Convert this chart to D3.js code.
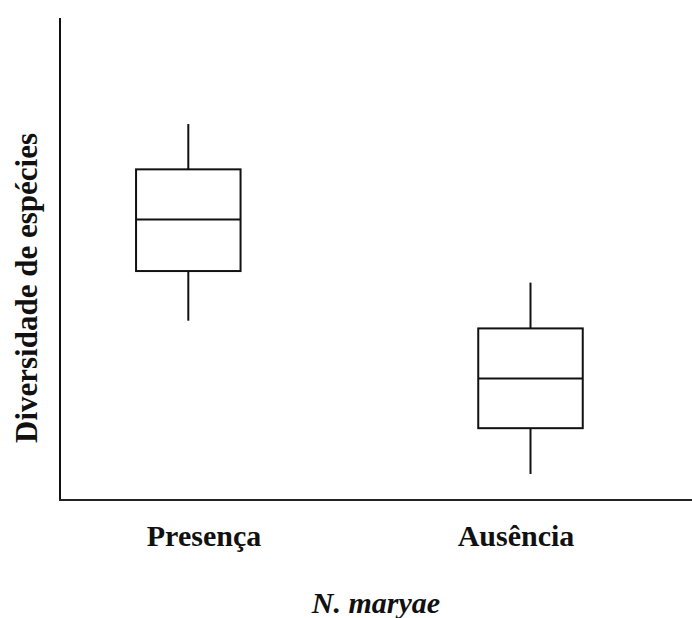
<!DOCTYPE html>
<html>
<head>
<meta charset="utf-8">
<script src="https://cdn.jsdelivr.net/npm/d3@7"></script>
<style>
  html, body { margin: 0; padding: 0; background: #fff; }
  svg { display: block; }
  text { font-family: "Liberation Serif", "Times New Roman", serif; font-weight: bold; fill: #111; }
</style>
</head>
<body>
<svg id="chart" width="692" height="618"></svg>
<script>
const categories = ["Presença", "Ausência"];
const whiskerLow  = [3.72, 0.54];
const q1          = [4.75, 1.49];
const median      = [5.82, 2.52];
const q3          = [6.86, 3.56];
const whiskerHigh = [7.80, 4.51];
const xTitle = "N. maryae";
const yTitle = "Diversidade de espécies";

const data = categories.map((c, i) => ({
  cat: c, lo: whiskerLow[i], q1: q1[i], med: median[i], q3: q3[i], hi: whiskerHigh[i]
}));

const svg = d3.select("#chart");
const axisX = 60, axisBottom = 500, axisTop = 18, right = 692;

const y = d3.scaleLinear().domain([0, 10]).range([axisBottom, axisTop]);
const x = d3.scalePoint().domain(categories).range([188.3, 530.5]);
const xLabel = d3.scalePoint().domain(categories).range([204, 516]);
const boxW = 104.5;

// axes
svg.append("line").attr("x1", axisX).attr("x2", axisX).attr("y1", axisTop).attr("y2", axisBottom + 1)
  .attr("stroke", "#111").attr("stroke-width", 2);
svg.append("line").attr("x1", axisX - 1).attr("x2", right).attr("y1", axisBottom).attr("y2", axisBottom)
  .attr("stroke", "#222").attr("stroke-width", 2.2);

const g = svg.append("g").selectAll("g").data(data).join("g");

g.append("line")
  .attr("x1", d => x(d.cat)).attr("x2", d => x(d.cat))
  .attr("y1", d => y(d.hi)).attr("y2", d => y(d.q3))
  .attr("stroke", "#111").attr("stroke-width", 2);
g.append("line")
  .attr("x1", d => x(d.cat)).attr("x2", d => x(d.cat))
  .attr("y1", d => y(d.q1)).attr("y2", d => y(d.lo))
  .attr("stroke", "#111").attr("stroke-width", 2);
g.append("rect")
  .attr("x", d => x(d.cat) - boxW / 2).attr("width", boxW)
  .attr("y", d => y(d.q3)).attr("height", d => y(d.q1) - y(d.q3))
  .attr("fill", "none").attr("stroke", "#111").attr("stroke-width", 2);
g.append("line")
  .attr("x1", d => x(d.cat) - boxW / 2).attr("x2", d => x(d.cat) + boxW / 2)
  .attr("y1", d => y(d.med)).attr("y2", d => y(d.med))
  .attr("stroke", "#111").attr("stroke-width", 2);

// category labels
svg.append("g").selectAll("text").data(categories).join("text")
  .attr("x", d => xLabel(d)).attr("y", 546)
  .attr("text-anchor", "middle").style("font-size", "30px")
  .text(d => d);

// x title
svg.append("text").attr("x", 376).attr("y", 613)
  .attr("text-anchor", "middle").style("font-size", "30px").style("font-style", "italic")
  .text(xTitle);

// y title
svg.append("text")
  .attr("transform", "translate(37,288) rotate(-90)")
  .attr("text-anchor", "middle").style("font-size", "31px")
  .text(yTitle);
</script>
</body>
</html>
